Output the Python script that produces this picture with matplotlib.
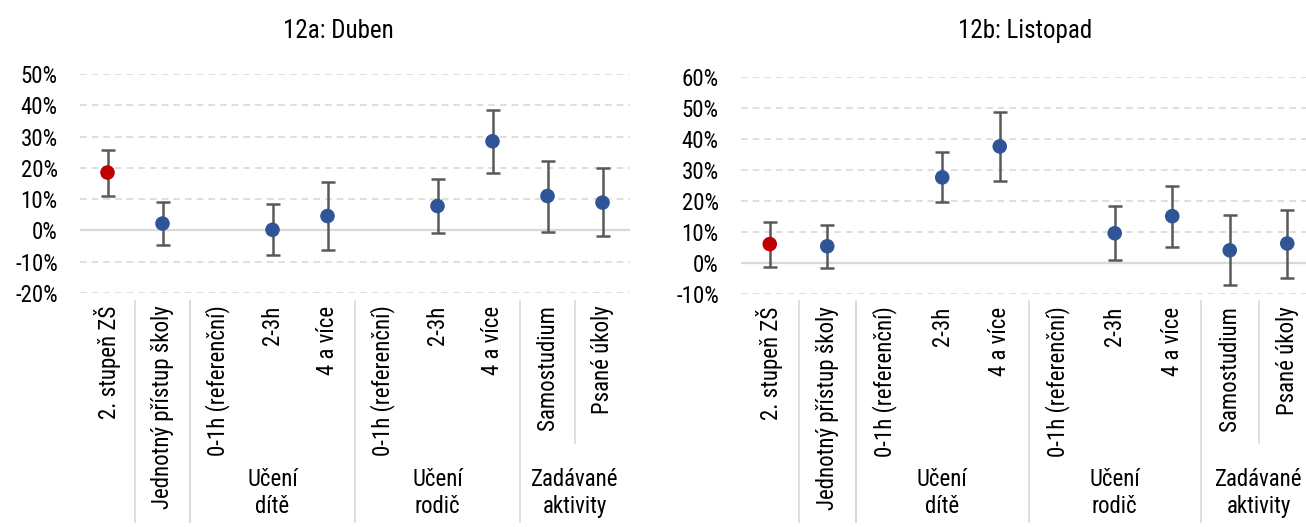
import numpy as np
import matplotlib
matplotlib.use("Agg")
import matplotlib.pyplot as plt
import matplotlib.transforms as mtransforms
from matplotlib import font_manager

# font - try condensed first
names = set(f.name for f in font_manager.fontManager.ttflist)
for fam in ["Liberation Sans Narrow", "Roboto Condensed", "Open Sans Condensed", "Liberation Sans"]:
    if fam in names:
        plt.rcParams['font.family'] = [fam, 'DejaVu Sans']
        break

# data
labels = ["2. stupeň ZŠ", "Jednotný přístup školy",
          "0-1h (referenční)", "2-3h", "4 a více",
          "0-1h (referenční)", "2-3h", "4 a více",
          "Samostudium", "Psané úkoly"]
groups = [("Učení\ndítě", 2, 4), ("Učení\nrodič", 5, 7), ("Zadávané\naktivity", 8, 9)]

duben = [18.5, 2.2, np.nan, 0.2, 4.6, np.nan, 7.8, 28.5, 11.0, 8.9]
duben_hi = [25.7, 9.0, np.nan, 8.4, 15.6, np.nan, 16.4, 38.4, 22.2, 19.9]
duben_lo = [11.1, -4.6, np.nan, -7.8, -6.4, np.nan, -0.7, 18.4, -0.4, -1.9]

listopad = [6.1, 5.4, np.nan, 27.6, 37.6, np.nan, 9.6, 15.1, 4.1, 6.3]
listopad_hi = [13.3, 12.2, np.nan, 35.7, 48.7, np.nan, 18.3, 24.9, 15.5, 17.1]
listopad_lo = [-1.2, -1.6, np.nan, 19.6, 26.6, np.nan, 1.1, 5.1, -7.2, -4.8]

W, H = 1306, 527
fig = plt.figure(figsize=(W/100, H/100), dpi=100)

blue = "#2F5597"
red = "#C00000"
grey = "#595959"
fs = 16.5

def panel(rect, title, title_x, vals, hi, lo, ymin, ymax):
    ax = fig.add_axes([rect[0]/W, 1-rect[3]/H, (rect[2]-rect[0])/W, (rect[3]-rect[1])/H])
    x = np.arange(len(labels))
    v = np.array(vals); h = np.array(hi); l = np.array(lo)
    yerr = [v - l, h - v]
    ax.errorbar(x, v, yerr=yerr, fmt='none', ecolor=grey, elinewidth=1.8,
                capsize=5, capthick=1.8, zorder=3)
    colors = [red] + [blue]*(len(x)-1)
    ax.scatter(x, v, s=110, c=colors, zorder=4, edgecolors='none')
    ax.set_xlim(-0.5, len(labels)-0.5)
    ax.set_ylim(ymin, ymax)
    ticks = np.arange(ymin, ymax+1, 10)
    ax.set_yticks(ticks)
    ax.set_yticklabels([f"{t:.0f}%" for t in ticks], fontsize=fs)
    for t in ticks:
        if t == 0:
            ax.axhline(0, color="#D9D9D9", lw=1.6, zorder=1)
        else:
            ax.axhline(t, color="#D9D9D9", lw=1.2, ls=(0, (4, 3)), zorder=1)
    ax.set_xticks(x)
    ax.set_xticklabels(labels, rotation=90, va='top', ha='center', fontsize=fs)
    ax.tick_params(length=0, axis='x', pad=9)
    ax.tick_params(length=0, axis='y', pad=16)
    for s in ax.spines.values():
        s.set_visible(False)
    ax.set_facecolor('none')

    tr = mtransforms.blended_transform_factory(ax.transData, fig.transFigure)
    seps = [0.5, 1.5, groups[0][1]-0.5, groups[1][1]-0.5, groups[2][1]-0.5]
    for s in seps:
        ax.plot([s, s], [1-301/H, 1-522/H], color="#D9D9D9", lw=1.2, transform=tr, clip_on=False)
    ax.plot([8.5, 8.5], [1-301/H, 1-443/H], color="#D9D9D9", lw=1.2, transform=tr, clip_on=False)
    for name, a, b in groups:
        ax.text((a+b)/2, 1-493/H, name, transform=tr, ha='center', va='center',
                fontsize=fs, linespacing=1.25)
    fig.text(title_x/W, 1-31/H, title, ha='center', va='center', fontsize=18)
    return ax

panel((80, 74, 630, 293), "12a: Duben", 338, duben, duben_hi, duben_lo, -20, 50)
panel((741, 77, 1316, 294), "12b: Listopad", 1025, listopad, listopad_hi, listopad_lo, -10, 60)

fig.savefig("out.png", dpi=100)
